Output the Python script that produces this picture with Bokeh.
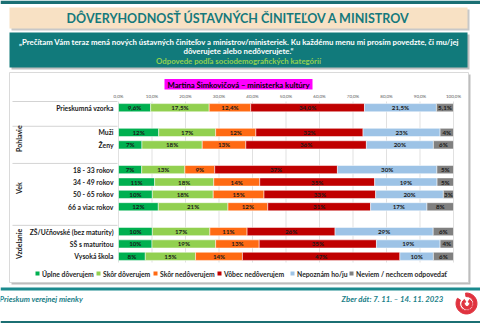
import math
from bokeh.plotting import figure
from bokeh.models import ColumnDataSource, Range1d
from bokeh.core.properties import value
from bokeh.embed import file_html
from bokeh.resources import INLINE

# ---------------- data ----------------
series = ["Úplne dôverujem", "Skôr dôverujem", "Skôr nedôverujem",
          "Vôbec nedôverujem", "Nepoznám ho/ju", "Neviem / nechcem odpovedať"]
colors = ["#00B050", "#92D050", "#FF6A13", "#C00000", "#9DC3E6", "#808080"]

categories = ["Prieskumná vzorka", "Muži", "Ženy", "18 - 33 rokov", "34 - 49 rokov",
              "50 - 65 rokov", "66 a viac rokov", "ZŠ/Učňovské (bez maturity)",
              "SŠ s maturitou", "Vysoká škola"]
groups = ["", "Pohlavie", "Pohlavie", "Vek", "Vek", "Vek", "Vek",
          "Vzdelanie", "Vzdelanie", "Vzdelanie"]

uplne_doverujem = [9.6, 12, 7, 7, 11, 10, 12, 10, 10, 8]
skor_doverujem = [17.5, 17, 18, 13, 18, 18, 21, 17, 19, 15]
skor_nedoverujem = [12.4, 12, 13, 9, 14, 15, 12, 11, 13, 14]
vobec_nedoverujem = [34.0, 32, 36, 37, 35, 33, 31, 26, 35, 47]
nepoznam = [21.5, 23, 20, 30, 19, 20, 17, 29, 19, 10]
neviem = [5.1, 4, 6, 5, 5, 3, 8, 6, 4, 6]

tick_values = [0, 10, 20, 30, 40, 50, 60, 70, 80, 90, 100]
tick_labels = ["0,0%", "10,0%", "20,0%", "30,0%", "40,0%", "50,0%",
               "60,0%", "70,0%", "80,0%", "90,0%", "100,0%"]

chart_title = "Martina Šimkovičová – ministerka kultúry"
main_title = "DÔVERYHODNOSŤ ÚSTAVNÝCH ČINITEĽOV A MINISTROV"
question_1 = "„Prečítam Vám teraz mená nových ústavných činiteľov a ministrov/ministeriek. Ku každému menu mi prosím povedzte, či mu/jej"
question_2 = "dôverujete alebo nedôverujete.“"
subtitle = "Odpovede podľa sociodemografických kategórií"
footer_left = "Prieskum verejnej mienky"
footer_right = "Zber dát: 7. 11. – 14. 11. 2023"

values = [uplne_doverujem, skor_doverujem, skor_nedoverujem,
          vobec_nedoverujem, nepoznam, neviem]

# ---------------- layout ----------------
W, H = 480, 323
FL, FR, FT, FB = 118, 453, 101, 262   # bar area edges in canvas pixels
FONT = "Lato"
TEAL = "#15797C"

rows = []
r = 0
for i, g in enumerate(groups):
    if i > 0 and g != groups[i - 1]:
        r += 1
    rows.append(r)
    r += 1
NROWS = r
ROWH = (FB - FT) / NROWS

# stacked segments (each row normalised to 100 %)
ys, lefts, rights, cols, mids, labs = [], [], [], [], [], []
for i in range(len(categories)):
    tot = sum(v[i] for v in values)
    cum = 0.0
    for s in range(len(series)):
        v = values[s][i]
        l = cum / tot * 100
        cum += v
        rr = cum / tot * 100
        ys.append(rows[i]); lefts.append(l); rights.append(rr); cols.append(colors[s])
        mids.append((l + rr) / 2)
        labs.append((f"{v:.1f}".replace(".", ",") if groups[i] == "" else f"{v:.0f}") + "%")

src = ColumnDataSource(dict(y=ys, left=lefts, right=rights, color=cols, mid=mids, lab=labs))

# canvas-sized frame: default ranges are page pixels, extra ranges hold the data scales
p = figure(width=W, height=H, output_backend="svg", toolbar_location=None,
           x_range=Range1d(0, W), y_range=Range1d(H, 0),
           x_axis_type=None, y_axis_type=None, min_border=0)
p.outline_line_color = None
p.grid.visible = False
p.background_fill_color = "white"
p.border_fill_color = "white"

span = FR - FL
p.extra_x_ranges = {"pct": Range1d(-FL / span * 100, (W - FL) / span * 100)}
p.extra_y_ranges = {"row": Range1d((H - FT) / ROWH - 0.5, -FT / ROWH - 0.5)}

def rect(x0, y0, x1, y1, color, line=None):
    p.quad(left=x0, right=x1, top=y0, bottom=y1, fill_color=color,
           line_color=line, line_width=0.8 if line else 0)

def txt(x, y, text, size, color="#1a1a1a", align="center", style="bold", angle=0,
        font=FONT, **kw):
    p.text(x=[x], y=[y], text=[text], text_font_size=f"{size}px", text_color=color,
           text_align=align, text_baseline="middle", text_font_style=style,
           angle=angle, text_font=value(font), **kw)

# top & bottom teal bars
rect(0, 0, W, 3.5, "#1B6F73")
rect(0, 287, W, 290, "#1B8A8E")
rect(0, 320.5, W, H, "#1B6F73")
# title box with shadow
rect(11, 9, 469, 30, "#C8C8C8")
rect(9, 7, 467, 28, "#F8E1C4")
# question box
rect(11, 34, 469, 69, "#BFBFBF")
rect(9, 32, 467, 67, "#117A7B")
# panel with shadow
rect(11, 74, 470, 284, "#BDBDBD")
rect(9, 72, 468, 282, "white", line="#D0D0D0")

txt(238, 18, main_title, 12.5, color=TEAL)
txt(238.5, 41, question_1, 7.8, color="white")
txt(238, 50.5, question_2, 7.8, color="white")
txt(238, 60, subtitle, 7.8, color="#92D050")

# chart title on magenta
rect(164, 78.5, 312, 89, "#FF00FF")
txt(238, 84, chart_title, 7.7, color="black")

# vertical grid lines and tick labels
p.segment(x0=tick_values, x1=tick_values, y0=FT, y1=FB, x_range_name="pct",
          line_color="#D9D9D9", line_width=0.8)
p.text(x=tick_values, y=[95.5] * len(tick_values), text=tick_labels, x_range_name="pct",
       text_font_size="4.5px", text_color="#595959", text_align="center",
       text_baseline="middle", text_font=value(FONT))

# separators in label column
sep_rows = [0] + [rows[i] for i in range(1, len(groups)) if groups[i] != groups[i - 1]]
p.segment(x0=[12] * len(sep_rows), x1=[FL - 1] * len(sep_rows),
          y0=[s - 0.5 for s in sep_rows], y1=[s - 0.5 for s in sep_rows],
          y_range_name="row", line_color="#C8C8C8", line_width=0.8)

# bars and their labels
p.hbar(y="y", left="left", right="right", height=0.66, fill_color="color",
       line_color="white", line_width=0.5, source=src,
       x_range_name="pct", y_range_name="row")
p.text(x="mid", y="y", text="lab", source=src, text_align="center",
       text_baseline="middle", text_font_size="6.2px", text_font_style="bold",
       text_color="#1a1a1a", text_font=value(FONT),
       x_range_name="pct", y_range_name="row")

# row labels
p.text(x=[FL - 5] * len(categories), y=rows, text=categories, y_range_name="row",
       text_align="right", text_baseline="middle", text_font_size="6.8px",
       text_font_style="bold", text_color="#1a1a1a", text_font=value(FONT))

# group labels (rotated)
gnames, gys = [], []
for g in dict.fromkeys(groups):
    if not g:
        continue
    rr = [rows[i] for i in range(len(groups)) if groups[i] == g]
    gnames.append(g)
    gys.append((min(rr) + max(rr)) / 2)
p.text(x=[18] * len(gnames), y=gys, text=gnames, y_range_name="row", angle=math.pi / 2,
       text_align="center", text_baseline="middle", text_font_size="7px",
       text_font_style="bold", text_color="#1a1a1a", text_font=value(FONT))

# legend
leg_x = [37, 98, 155, 219, 292, 351]
p.quad(left=[x - 2 for x in leg_x], right=[x + 2 for x in leg_x],
       top=[271] * 6, bottom=[275] * 6, fill_color=colors, line_color=None)
p.text(x=[x + 4.5 for x in leg_x], y=[273] * 6, text=series, text_align="left",
       text_baseline="middle", text_font_size="6.8px", text_font_style="bold",
       text_color="#262626", text_font=value(FONT))

# footer
txt(-1, 298.5, footer_left, 7.8, color="#1A8088", align="left", style="bold italic")
txt(443, 298.5, footer_right, 7.8, color="#1A8088", align="right", style="bold italic")
# logo (spiral-like rings)
p.annular_wedge(x=[466], y=[303], inner_radius=7, outer_radius=10.5,
                start_angle=math.radians(150), end_angle=math.radians(95),
                color="#E0333F", direction="anticlock")
p.annular_wedge(x=[466.5], y=[303.5], inner_radius=2.5, outer_radius=5.2,
                start_angle=math.radians(120), end_angle=math.radians(60),
                color="#E0333F", direction="anticlock")

open("out.html", "w").write(file_html(p, INLINE))
